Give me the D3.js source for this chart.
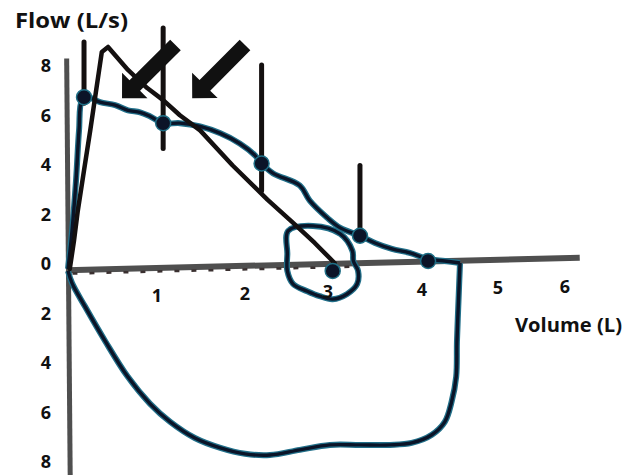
<!DOCTYPE html>
<html>
<head>
<meta charset="utf-8">
<script src="https://cdn.jsdelivr.net/npm/d3@7"></script>
<style>
body { margin: 0; background: #fff; }
svg text { font-family: "Open Sans", "Liberation Sans", sans-serif; font-weight: 700; fill: #111; }
</style>
</head>
<body>
<svg width="633" height="475"></svg>
<script>
// values: [volume (L), flow (L/s)]
var measuredExp = [[0,-0.2],[0.045,1.34],[0.09,3.37],[0.124,5.4],[0.157,6.62],[0.225,6.74],[0.36,6.54],[0.53,6.42],
    [0.674,6.21],[0.81,6.13],[0.92,5.97],[1.07,5.69],[1.26,5.69],[1.49,5.56],[1.72,5.28],[1.94,4.87],[2.12,4.39],
    [2.2,4.06],[2.34,3.66],[2.66,3.17],[2.78,2.56],[2.99,1.87],[3.13,1.46],[3.34,1.14],[3.5,0.85],[3.68,0.61],
    [3.87,0.45],[4.08,0.2],[4.3,0.12],[4.5,0.04]];
var measuredInsp = [[4.5,0.04],[4.48,-1.5],[4.46,-3.13],[4.45,-4.55],[4.39,-5.56],[4.3,-6.38],[4.13,-6.9],[3.89,-7.23],
    [3.66,-7.31],[3.34,-7.31],[3.02,-7.31],[2.66,-7.51],[2.3,-7.72],[2.0,-7.67],[1.72,-7.43],[1.43,-7.03],
    [1.15,-6.38],[0.92,-5.64],[0.67,-4.55],[0.42,-3.13],[0.19,-1.71],[0.045,-0.77],[0,-0.28]];
var smallLoop = [[2.52,1.34],[2.82,1.54],[3.13,1.22],[3.26,0.53],[3.27,0.12],[3.32,-0.28],[3.31,-0.81],[3.2,-1.22],
    [3.05,-1.42],[2.9,-1.3],[2.75,-1.1],[2.58,-0.81],[2.51,-0.28],[2.51,0.41]];
var blackCurve = [[0.02,-0.2],[0.067,0.93],[0.11,2.15],[0.18,3.78],[0.25,5.4],[0.3,6.62],[0.35,7.84],[0.38,8.57],
    [0.45,8.77],[0.674,7.84],[0.89,7.11],[1.07,6.62],[1.26,6.01],[1.49,5.4],[1.86,3.98],[2.27,2.6],[2.58,1.66],
    [2.84,0.85],[3.07,0.04]];

// points with upper bars
var pointVol = [0.18, 1.07, 2.2, 3.34, 4.08, 3.05];
var pointFlow = [6.74, 5.69, 4.06, 1.14, 0.12, -0.28];
var barTop = [8.97, 9.54, 8.04, 3.98, null, null];
var barBottom = [6.5, 4.67, 2.96, 1.0, null, null];

// arrows
var arrowTail = [[1.21, 8.85], [2.0, 8.85]];
var arrowTip = [[0.607, 6.7], [1.4, 6.7]];

var xTicks = [1, 2, 3, 4, 5, 6];
var yTicks = [8, 6, 4, 2, 0, -2, -4, -6, -8];

var svg = d3.select("svg");

// hand drawn axis is uneven, so the x scale is piecewise
var x = d3.scaleLinear().domain([0,1,2,3,4,5,6]).range([68,157,245,328,422,498,565]);
var y = d3.scaleLinear().domain([8,-8]).range([66,462]);

var xAxisLine = [[-0.02,-0.25],[6.22,0.25]];
var yAxisLine = [[-0.015,8.3],[0.025,-8.7]];

function axisY(v){
    var x0 = x(xAxisLine[0][0]), x1 = x(xAxisLine[1][0]);
    var y0 = y(xAxisLine[0][1]), y1 = y(xAxisLine[1][1]);
    return y0 + (x(v) - x0) / (x1 - x0) * (y1 - y0);
}

var line = d3.line().x(function(d){ return x(d[0]); }).y(function(d){ return y(d[1]); });

// axes
svg.append("path").attr("d", line(yAxisLine)).attr("stroke", "#4f4f4f").attr("stroke-width", 5).attr("fill", "none");
svg.append("path").attr("d", line(xAxisLine)).attr("stroke", "#4f4f4f").attr("stroke-width", 6).attr("fill", "none");
svg.append("path")
    .attr("d", "M" + x(0.05) + "," + (axisY(0.05) + 3.5) + "L" + x(3.3) + "," + (axisY(3.3) + 3.5))
    .attr("stroke", "#3a3030").attr("stroke-width", 2.5).attr("stroke-dasharray", "5,12").attr("fill", "none");

// measured loop: teal halo + dark core
var smoothLine = d3.line().x(function(d){ return x(d[0]); }).y(function(d){ return y(d[1]); }).curve(d3.curveCatmullRom.alpha(0.5));
var loopLine = d3.line().x(function(d){ return x(d[0]); }).y(function(d){ return y(d[1]); }).curve(d3.curveCatmullRomClosed.alpha(0.5));
var blues = [smoothLine(measuredExp), smoothLine(measuredInsp), loopLine(smallLoop)];
blues.forEach(function(p){
    svg.append("path").attr("d", p).attr("stroke", "#22708a").attr("stroke-width", 6).attr("fill", "none").attr("stroke-linejoin", "round");
});
blues.forEach(function(p){
    svg.append("path").attr("d", p).attr("stroke", "#0a1428").attr("stroke-width", 3.4).attr("fill", "none").attr("stroke-linejoin", "round");
});

// black trace
svg.append("path").attr("d", line(blackCurve)).attr("stroke", "#141010").attr("stroke-width", 4.5)
    .attr("fill", "none").attr("stroke-linejoin", "round").attr("stroke-linecap", "round");

// bars and points
for(var i = 0; i < pointVol.length; i++){
    if(barTop[i] != null){
        svg.append("line").attr("x1", x(pointVol[i])).attr("x2", x(pointVol[i]))
            .attr("y1", y(barTop[i])).attr("y2", y(barBottom[i]))
            .attr("stroke", "#141010").attr("stroke-width", 5).attr("stroke-linecap", "round");
    }
    svg.append("circle").attr("cx", x(pointVol[i])).attr("cy", y(pointFlow[i])).attr("r", 7.5)
        .attr("fill", "#0b1428").attr("stroke", "#1f6f86").attr("stroke-width", 1.5);
}

// arrows
function drawArrow(tail, tip){
    var tx = x(tail[0]), ty = y(tail[1]), px = x(tip[0]), py = y(tip[1]);
    var dx = tx - px, dy = ty - py, len = Math.sqrt(dx*dx + dy*dy);
    var ux = dx/len, uy = dy/len, nx = -uy, ny = ux;
    var headLen = 18, headHalf = 18, shaft = 7.5;
    var bx = px + ux*headLen, by = py + uy*headLen;
    var pts = [[px,py],[bx+nx*headHalf,by+ny*headHalf],[bx+nx*shaft,by+ny*shaft],[tx+nx*shaft,ty+ny*shaft],
               [tx-nx*shaft,ty-ny*shaft],[bx-nx*shaft,by-ny*shaft],[bx-nx*headHalf,by-ny*headHalf]];
    svg.append("polygon").attr("points", pts.map(function(p){ return p.join(","); }).join(" ")).attr("fill", "#111");
}
for(var a = 0; a < arrowTail.length; a++) drawArrow(arrowTail[a], arrowTip[a]);

// tick labels
svg.selectAll(".ylab").data(yTicks).enter().append("text")
    .attr("x", 46).attr("y", function(d){ return y(d); }).attr("dy", "0.36em")
    .attr("text-anchor", "middle").attr("font-size", 18)
    .text(function(d){ return Math.abs(d); });
svg.selectAll(".xlab").data(xTicks).enter().append("text")
    .attr("x", function(d){ return x(d); }).attr("y", function(d){ return axisY(d) + 28; }).attr("dy", "0.36em")
    .attr("text-anchor", "middle").attr("font-size", 18)
    .text(function(d){ return d; });

// titles
svg.append("text").attr("x", 15).attr("y", 28).attr("font-size", 21)
    .attr("textLength", 113).attr("lengthAdjust", "spacingAndGlyphs").text("Flow (L/s)");
svg.append("text").attr("x", 515).attr("y", 332).attr("font-size", 20)
    .attr("textLength", 107).attr("lengthAdjust", "spacingAndGlyphs").text("Volume (L)");
</script>
</body>
</html>
